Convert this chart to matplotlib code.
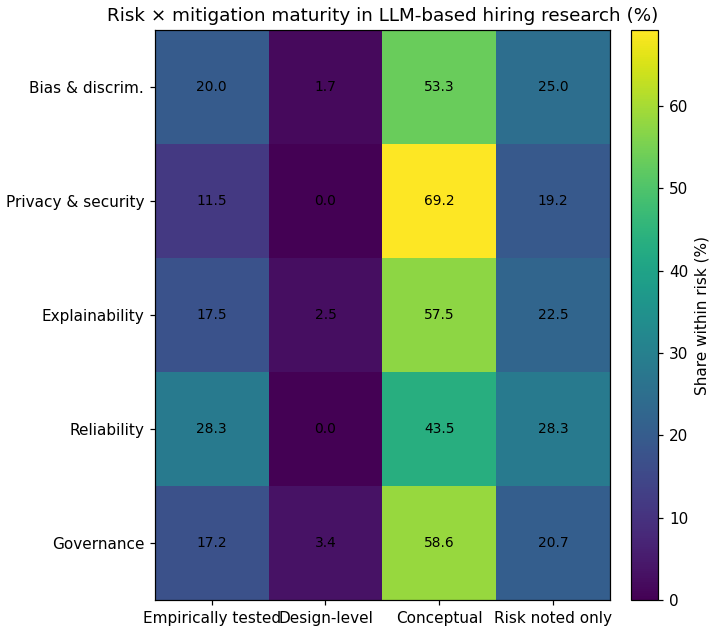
import matplotlib
matplotlib.use("Agg")
import matplotlib.pyplot as plt
import numpy as np

risks = ["Bias & discrim.", "Privacy & security", "Explainability", "Reliability", "Governance"]
maturity = ["Empirically tested", "Design-level", "Conceptual", "Risk noted only"]
empirically_tested = [20.0, 11.5, 17.5, 28.3, 17.2]
design_level = [1.7, 0.0, 2.5, 0.0, 3.4]
conceptual = [53.3, 69.2, 57.5, 43.5, 58.6]
risk_noted_only = [25.0, 19.2, 22.5, 28.3, 20.7]

data = np.array([empirically_tested, design_level, conceptual, risk_noted_only]).T

fig = plt.figure(figsize=(714 / 110, 629 / 110), dpi=110)
ax = fig.add_axes([0.217, 0.046, 0.637, 0.906])
cax = fig.add_axes([0.884, 0.046, 0.038, 0.906])

im = ax.imshow(data, cmap="viridis", aspect="auto")
ax.set_xticks(range(len(maturity)))
ax.set_xticklabels(maturity)
ax.set_yticks(range(len(risks)))
ax.set_yticklabels(risks)
for i in range(data.shape[0]):
    for j in range(data.shape[1]):
        ax.text(j, i, f"{data[i, j]:.1f}", ha="center", va="center", fontsize=9, color="black")
ax.set_title("Risk × mitigation maturity in LLM-based hiring research (%)", fontsize=12)
cb = fig.colorbar(im, cax=cax)
cb.set_label("Share within risk (%)")
fig.savefig("out.png", dpi=110)
